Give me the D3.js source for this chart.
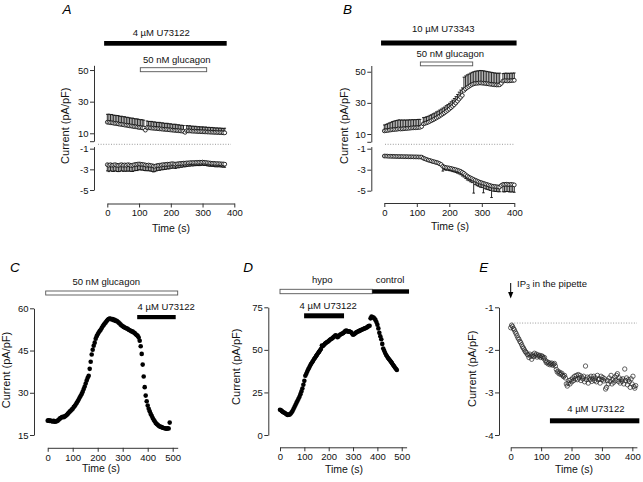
<!DOCTYPE html>
<html><head><meta charset="utf-8">
<script src="https://cdn.jsdelivr.net/npm/d3@7"></script>
<style>body{margin:0;background:#fff}svg{display:block}</style>
</head><body><svg id="c" width="643" height="482"></svg>
<script>
// ---------------- DATA ----------------
const dtA = 5, dtB = 5, dtC = 4, dtD = 4, dtE = 3;   // sampling interval (s)
const aUpMean = [17.0,16.9,16.7,16.6,16.4,16.2,16.1,15.9,15.7,15.6,
 15.4,15.2,15.1,14.9,14.7,14.6,14.4,14.2,14.1,13.9,
 13.7,13.6,13.4,13.3,12.0,13.6,13.5,13.4,13.3,13.2,
 13.1,13.0,12.9,12.8,12.7,12.6,12.5,12.4,12.3,12.2,
 12.1,12.0,11.9,11.8,11.7,11.6,11.5,11.4,11.3,10.6,
 11.6,11.5,11.5,11.4,11.3,11.3,11.2,11.1,11.1,11.0,
 11.0,10.9,10.9,10.8,10.8,10.7,10.7,10.6,10.6,10.5,
 10.5,10.4,10.4,10.3,10.3];
const aUpErr = [5.0,5.2,5.1,5.3,5.0,5.2,5.1,5.3,5.0,5.2,
 5.1,5.3,5.0,5.2,5.1,5.0,5.2,5.1,5.0,5.2,
 5.1,5.0,5.2,5.0,0,4.2,4.0,4.1,4.2,4.0,
 4.1,3.9,4.0,4.1,3.9,4.0,3.8,3.9,4.0,3.8,
 3.9,3.7,3.8,3.9,3.7,3.8,3.6,3.7,3.6,0,
 3.3,3.2,3.3,3.1,3.2,3.1,3.2,3.0,3.1,3.0,
 3.1,3.0,3.1,2.9,3.0,2.9,3.0,2.9,2.8,2.9,
 2.8,2.9,2.8,2.8,2.9];
const aLoMean = [-2.55,-2.60,-2.55,-2.60,-2.58,-2.55,-2.60,-2.62,-2.58,-2.55,
 -2.60,-2.57,-2.60,-2.55,-2.58,-2.62,-2.60,-2.55,-2.52,-2.50,
 -2.48,-2.50,-2.52,-2.55,-2.58,-2.60,-2.58,-2.62,-2.65,-2.68,
 -2.70,-2.65,-2.62,-2.60,-2.58,-2.55,-2.55,-2.52,-2.50,-2.50,
 -2.48,-2.45,-2.48,-2.50,-2.47,-2.45,-2.43,-2.42,-2.40,-2.40,
 -2.38,-2.38,-2.36,-2.35,-2.35,-2.34,-2.33,-2.33,-2.32,-2.32,
 -2.30,-2.32,-2.34,-2.36,-2.38,-2.40,-2.42,-2.42,-2.44,-2.45,
 -2.45,-2.46,-2.48,-2.48,-2.50];
const aLoErr = [0.60,0.62,0.58,0.60,0.63,0.59,0.61,0.60,0.62,0.58,
 0.60,0.61,0.59,0.62,0.60,0.58,0.61,0.60,0.59,0.62,
 0.55,0.57,0.54,0.56,0.55,0.53,0.56,0.54,0.55,0.57,
 0.52,0.50,0.48,0.50,0.47,0.49,0.46,0.48,0.45,0.46,
 0.42,0.44,0.40,0.42,0.38,0.40,0.37,0.38,0.35,0.36,
 0.34,0.32,0.33,0.31,0.32,0.30,0.31,0.30,0.32,0.30,
 0.30,0.31,0.29,0.30,0.31,0.30,0.29,0.30,0.31,0.30,
 0.30,0.29,0.30,0.31,0.30];
const bUpMean = [12.0,12.2,12.3,12.5,12.6,12.8,12.9,13.0,13.1,13.3,
 13.2,13.3,13.4,13.5,13.6,13.7,13.8,13.9,14.0,14.0,
 14.1,14.2,14.3,14.8,16.5,16.8,17.2,17.6,18.1,18.6,
 19.1,19.7,20.3,20.9,21.5,22.2,22.9,23.6,24.4,25.2,
 26.0,26.9,27.8,28.8,29.9,31.1,32.4,33.6,34.8,38.0,
 39.0,39.8,40.5,41.2,41.8,42.2,42.5,42.6,42.7,42.8,
 42.7,42.6,42.5,42.3,42.2,42.0,41.9,41.7,41.6,41.5,
 41.5,41.6,42.5,44.0,44.2,44.2,44.1,44.2,44.3,44.4,
 44.5];
const bUpErr = [3.8,4.0,4.3,4.6,4.9,5.2,5.4,5.6,5.7,5.8,
 5.8,5.7,5.6,5.5,5.4,5.4,5.3,5.3,5.2,5.2,
 5.2,5.2,5.1,0,4.0,3.9,3.9,3.8,3.9,3.8,
 3.9,3.8,3.9,3.8,3.9,3.8,3.8,3.7,3.8,3.7,
 3.7,3.8,3.9,4.0,4.1,4.3,4.5,4.6,4.8,8.5,
 8.3,8.2,8.0,7.9,7.8,7.8,7.8,7.9,7.9,8.0,
 8.0,8.0,7.9,7.9,7.8,7.8,7.7,7.7,7.6,7.6,
 7.5,7.5,0,4.8,4.8,4.9,4.9,4.8,4.8,4.7,
 4.7];
const bLoMean = [-1.70,-1.70,-1.71,-1.72,-1.72,-1.73,-1.73,-1.74,-1.74,-1.75,
 -1.75,-1.75,-1.76,-1.76,-1.76,-1.77,-1.77,-1.77,-1.78,-1.78,
 -1.78,-1.79,-1.79,-1.80,-1.90,-1.96,-2.02,-2.08,-2.12,-2.17,
 -2.22,-2.26,-2.30,-2.35,-2.42,-2.50,-2.68,-2.75,-2.80,-2.82,
 -2.84,-2.88,-2.92,-2.96,-3.00,-3.05,-3.10,-3.16,-3.25,-3.35,
 -3.48,-3.60,-3.70,-3.78,-3.85,-3.93,-4.00,-4.07,-4.14,-4.20,
 -4.25,-4.30,-4.35,-4.40,-4.45,-4.50,-4.55,-4.58,-4.60,-4.62,
 -4.64,-4.65,-4.50,-4.40,-4.40,-4.38,-4.40,-4.42,-4.40,-4.42,
 -4.45];
const bLoErr = [0.08,0.08,0.08,0.08,0.08,0.08,0.08,0.08,0.08,0.08,
 0.08,0.08,0.08,0.08,0.08,0.08,0.08,0.08,0.08,0.08,
 0.08,0.08,0.08,0.08,0.12,0.12,0.12,0.13,0.12,0.13,
 0.13,0.12,0.14,0.13,0.15,0.15,0.45,0.25,0.25,0.22,
 0.25,0.24,0.26,0.25,0.27,0.28,0.30,0.32,0.35,0.35,
 0.36,0.38,0.35,0.37,0.38,1.30,0.42,0.45,0.44,0.46,
 0.45,0.90,0.46,0.47,0.45,0.48,1.10,0.46,0.47,0.45,
 0.46,0.45,0,0.70,0.72,0.70,0.68,0.70,0.72,0.70,
 0.70];
const cVals = [20.1,20.2,20.0,20.1,19.9,19.8,20.0,19.7,19.8,19.9,
 20.1,20.4,20.8,21.0,21.3,21.5,21.3,21.6,21.8,22.1,
 22.5,22.9,23.3,23.6,24.0,24.3,24.9,25.3,25.8,26.4,
 27.0,27.6,28.3,28.9,29.6,30.4,31.3,32.2,33.3,34.4,
 35.3,36.0,38.5,41.0,43.6,45.3,46.7,47.8,49.2,50.1,
 50.8,51.4,51.9,52.4,53.0,53.6,54.1,54.6,55.0,55.5,
 55.9,56.2,56.4,56.3,56.0,56.2,55.8,55.9,55.5,55.6,
 55.2,54.9,54.6,54.2,53.9,53.6,53.4,53.2,53.0,52.8,
 52.7,52.4,52.2,52.0,51.8,51.7,51.4,51.2,50.8,50.5,
 50.2,49.6,48.5,46.5,43.8,40.0,35.8,32.0,29.0,27.0,
 25.5,24.3,23.4,22.5,21.8,21.0,20.4,19.9,19.3,18.9,
 18.6,18.3,18.0,17.9,17.8,17.6,17.5,17.4,17.3,17.2,
 17.4,17.3,19.4];
const dVals = [14.8,14.5,14.0,13.5,13.2,12.9,12.5,12.0,11.8,11.9,
 12.1,12.6,13.3,14.2,15.4,16.6,17.8,19.0,20.1,21.3,
 22.5,24.0,25.6,27.3,29.5,31.8,34.8,36.0,37.3,38.6,
 39.6,40.8,41.8,42.7,43.6,44.6,45.4,46.3,47.1,48.0,
 48.8,49.6,50.5,52.6,52.2,52.9,53.5,54.0,54.4,54.8,
 55.2,55.8,56.2,56.5,57.0,57.5,58.0,58.6,58.3,57.4,
 57.9,58.6,59.0,59.3,59.6,59.9,60.5,61.0,61.3,61.0,
 60.6,60.9,60.6,60.3,59.6,58.9,59.2,59.6,60.1,60.5,
 60.8,61.0,61.3,61.6,61.8,62.1,62.4,62.6,62.8,63.1,
 63.5,64.0,64.2,68.5,69.5,69.2,69.0,68.4,67.6,66.4,
 64.8,62.6,60.0,58.0,56.2,53.5,50.8,49.5,48.2,47.0,
 46.1,45.2,44.5,43.7,43.0,42.2,41.3,40.5,39.6,38.9,
 38.2];
const eVals = [-1.48,-1.42,-1.45,-1.50,-1.53,-1.58,-1.62,-1.67,-1.72,-1.75,
 -1.80,-1.83,-1.88,-1.93,-1.96,-2.00,-2.04,-2.06,-2.10,-2.12,
 -2.18,-2.10,-2.15,-2.22,-2.12,-2.16,-2.08,-2.13,-2.10,-2.17,
 -2.12,-2.15,-2.13,-2.18,-2.14,-2.16,-2.20,-2.18,-2.25,-2.30,
 -2.28,-2.33,-2.30,-2.35,-2.33,-2.31,-2.36,-2.34,-2.32,-2.38,
 -2.46,-2.52,-2.50,-2.56,-2.53,-2.58,-2.55,-2.60,-2.63,-2.60,
 -2.66,-2.80,-2.85,-2.78,-2.72,-2.80,-2.70,-2.75,-2.66,-2.72,
 -2.62,-2.68,-2.60,-2.70,-2.58,-2.66,-2.60,-2.72,-2.64,-2.68,
 -2.62,-2.75,-2.38,-2.70,-2.64,-2.78,-2.66,-2.70,-2.62,-2.74,
 -2.68,-2.62,-2.72,-2.66,-2.75,-2.60,-2.70,-2.68,-2.78,-2.62,
 -2.70,-2.65,-2.73,-2.68,-2.92,-2.88,-2.72,-2.80,-2.66,-2.74,
 -2.60,-2.80,-2.70,-2.76,-2.64,-2.72,-2.60,-2.56,-2.74,-2.66,
 -2.78,-2.70,-2.74,-2.68,-2.80,-2.45,-2.72,-2.66,-2.82,-2.70,
 -2.75,-2.88,-2.68,-2.80,-2.62,-2.86,-2.90,-2.84];
const eBaseline = -1.37;

// treatments: [label, start (s), end (s), filled]
const treatA = [["4 µM U73122", -10, 376, true], ["50 nM glucagon", 104, 313, false]];
const treatB = [["10 µM U73343", -10, 407, true], ["50 nM glucagon", 111, 272, false]];
const treatC = [["50 nM glucagon", -8, 520, false], ["4 µM U73122", 358, 512, true]];
const treatD = [["hypo", 0, 379, false], ["control", 379, 530, true], ["4 µM U73122", 99, 263, true]];
const treatE = [["4 µM U73122", 129, 423, true]];

const ticksAB_x = [0,100,200,300,400];
const ticksAB_up = [10,30,50], ticksAB_lo = [-1,-3,-5];
const ticksCD_x = [0,100,200,300,400,500];
const ticksC_y = [15,30,45,60], ticksD_y = [0,25,50,75], ticksE_y = [-4,-3,-2,-1];
const ticksE_x = [0,100,200,300,400];

// ---------------- DRAWING ----------------
const FONT = "'Liberation Sans', Arial, Helvetica, sans-serif";
const svg = d3.select("#c");
const AX = "#333";

function styleAxis(g, fs){
  g.attr("font-family", FONT).attr("font-size", fs||9.5);
  g.select(".domain").attr("stroke", AX).attr("stroke-width", 1);
  g.selectAll(".tick line").attr("stroke", AX);
  g.selectAll(".tick text").attr("fill", "#111");
}
function axLeft(x, scale, vals, endTick){
  const v = endTick!==undefined ? vals.concat([endTick]) : vals;
  const g = svg.append("g").attr("transform", `translate(${x},0)`)
    .call(d3.axisLeft(scale).tickValues(v).tickSize(4).tickPadding(1.5).tickSizeOuter(0)
      .tickFormat(d => (d===endTick ? "" : String(d))));
  styleAxis(g);
}
function axBottom(y, scale, vals){
  const g = svg.append("g").attr("transform", `translate(0,${y})`)
    .call(d3.axisBottom(scale).tickValues(vals).tickSize(4).tickPadding(2).tickSizeOuter(0)
      .tickFormat(d => String(d)));
  styleAxis(g);
}
function yLabel(x, y){
  svg.append("text").attr("transform", `translate(${x},${y}) rotate(-90)`)
    .attr("text-anchor","middle").attr("font-family",FONT).attr("font-size",11)
    .attr("fill","#111").text("Current (pA/pF)");
}
function xLabel(x, y){
  svg.append("text").attr("x",x).attr("y",y).attr("text-anchor","middle")
    .attr("font-family",FONT).attr("font-size",10.5).attr("fill","#111").text("Time (s)");
}
function letter(ch, x, y){
  svg.append("text").attr("x",x).attr("y",y).attr("font-family",FONT)
    .attr("font-style","italic").attr("font-size",13.5).attr("fill","#000").text(ch);
}
function dotted(x0, x1, y){
  svg.append("line").attr("x1",x0).attr("x2",x1).attr("y1",y).attr("y2",y)
    .attr("stroke","#9a9a9a").attr("stroke-width",1).attr("stroke-dasharray","1,1.6");
}
// treatment bars: layout = [[barY, barH, labelT, labelBaseline], ...]
function treatments(xs, treat, layout){
  treat.forEach((tr, i) => {
    const [lab, t0, t1, filled] = tr, [by, bh, lt, ly] = layout[i];
    svg.append("rect").attr("x", xs(t0)).attr("y", by).attr("width", xs(t1)-xs(t0)).attr("height", bh)
      .attr("fill", filled ? "#000" : "#fff").attr("stroke", filled ? "none" : "#555").attr("stroke-width", 0.9);
    svg.append("text").attr("x", xs(lt)).attr("y", ly).attr("text-anchor","middle")
      .attr("font-family",FONT).attr("font-size",9.5).attr("fill","#111").text(lab);
  });
}
function errSeries(xs, ys, dt, mean, err, dir){
  const data = mean.map((m,i) => ({t:i*dt, m, e:err[i]}));
  const gb = svg.append("g").attr("stroke","#111").attr("stroke-width",0.9);
  const withErr = data.filter(d => d.e > 0);
  gb.selectAll("line.v").data(withErr).join("line").attr("class","v")
    .attr("x1", d=>xs(d.t)).attr("x2", d=>xs(d.t))
    .attr("y1", d=>ys(d.m)).attr("y2", d=>ys(d.m + dir*d.e));
  gb.selectAll("line.c").data(withErr).join("line").attr("class","c")
    .attr("x1", d=>xs(d.t)-1.3).attr("x2", d=>xs(d.t)+1.3)
    .attr("y1", d=>ys(d.m + dir*d.e)).attr("y2", d=>ys(d.m + dir*d.e));
  svg.append("g").selectAll("circle").data(data).join("circle")
    .attr("cx", d=>xs(d.t)).attr("cy", d=>ys(d.m)).attr("r", 1.9)
    .attr("fill","#fff").attr("stroke","#000").attr("stroke-width",0.8);
}
function dots(xs, ys, dt, vals, filled){
  svg.append("g").selectAll("circle").data(vals).join("circle")
    .attr("cx", (d,i)=>xs(i*dt)).attr("cy", d=>ys(d)).attr("r", filled ? 2.3 : 2.2)
    .attr("fill", filled ? "#000" : "none").attr("stroke", filled ? "none" : "#222")
    .attr("stroke-width", 0.7);
}

// ---------- Panel A ----------
{
  const xs = d3.scaleLinear([0,400],[107.3,234.3]);
  const yu = d3.scaleLinear([5,53],[141.2,65.3]);
  const yl = d3.scaleLinear([-5,-0.8],[190,146.6]);
  letter("A", 62.5, 14);
  treatments(xs, treatA, [[41,4.7,170,36],[67.7,4,219,63.3]]);
  axLeft(94, yu, ticksAB_up, 5);
  axLeft(94, yl, ticksAB_lo);
  axBottom(203.5, xs, ticksAB_x);
  dotted(98, 231, 144.3);
  errSeries(xs, yu, dtA, aUpMean, aUpErr, 1);
  errSeries(xs, yl, dtA, aLoMean, aLoErr, -1);
  yLabel(68.7, 125.7);
  xLabel(171, 231.7);
}
// ---------- Panel B ----------
{
  const xs = d3.scaleLinear([0,400],[384.3,514.3]);
  const yu = d3.scaleLinear([5,54],[141.8,65.5]);
  const yl = d3.scaleLinear([-5,-0.8],[190.7,146.6]);
  letter("B", 343, 14);
  treatments(xs, treatB, [[40.5,5,181.5,32.3],[62,3.8,203,57.3]]);
  axLeft(371.3, yu, ticksAB_up, 5);
  axLeft(371.3, yl, ticksAB_lo);
  axBottom(203, xs, ticksAB_x);
  dotted(385, 514, 144.3);
  errSeries(xs, yu, dtB, bUpMean, bUpErr, 1);
  errSeries(xs, yl, dtB, bLoMean, bLoErr, -1);
  yLabel(347.7, 125.8);
  xLabel(450, 229.5);
}
// ---------- Panel C ----------
{
  const xs = d3.scaleLinear([0,520],[47.7,177.7]);
  const ys = d3.scaleLinear([15,60],[435,308.3]);
  letter("C", 10, 271.7);
  treatments(xs, treatC, [[291,4,234,285],[315,4.2,474,310]]);
  axLeft(34, ys, ticksC_y);
  axBottom(447.8, xs, ticksCD_x);
  dots(xs, ys, dtC, cVals, true);
  yLabel(10.4, 370);
  xLabel(101, 471.7);
}
// ---------- Panel D ----------
{
  const xs = d3.scaleLinear([0,520],[280,406.6]);
  const ys = d3.scaleLinear([0,75],[435,307.3]);
  letter("D", 243.3, 271.7);
  treatments(xs, treatD, [[289.3,4.4,174,283.3],[289.3,4.4,452,283.3],[313.3,5,198,309]]);
  axLeft(268.3, ys, ticksD_y);
  axBottom(447.3, xs, ticksCD_x);
  dots(xs, ys, dtD, dVals, true);
  yLabel(240.4, 366.7);
  xLabel(344, 473.3);
}
// ---------- Panel E ----------
{
  const xs = d3.scaleLinear([0,415],[510.7,636.9]);
  const ys = d3.scaleLinear([-4,-1],[435,307.3]);
  letter("E", 479.3, 271.7);
  treatments(xs, treatE, [[418.3,5,280,412.3]]);
  axLeft(499, ys, ticksE_y);
  axBottom(447.3, xs, ticksE_x);
  dotted(xs(0)+1, 637, ys(eBaseline));
  dots(xs, ys, dtE, eVals, false);
  yLabel(476, 368.8);
  xLabel(574, 473.3);
  // IP3 arrow + label
  const ax = xs(0);
  svg.append("line").attr("x1",ax).attr("x2",ax).attr("y1",283).attr("y2",293)
    .attr("stroke","#000").attr("stroke-width",1);
  svg.append("path").attr("d",`M${ax-2.6},292 L${ax+2.6},292 L${ax},298.5 Z`).attr("fill","#000");
  const t = svg.append("text").attr("x", xs(21)).attr("y", 286.7).attr("font-family",FONT)
    .attr("font-size",9.5).attr("fill","#111");
  t.append("tspan").text("IP");
  t.append("tspan").attr("font-size",7).attr("dy",2.5).text("3");
  t.append("tspan").attr("dy",-2.5).text(" in the pipette");
}
</script>
</body></html>
